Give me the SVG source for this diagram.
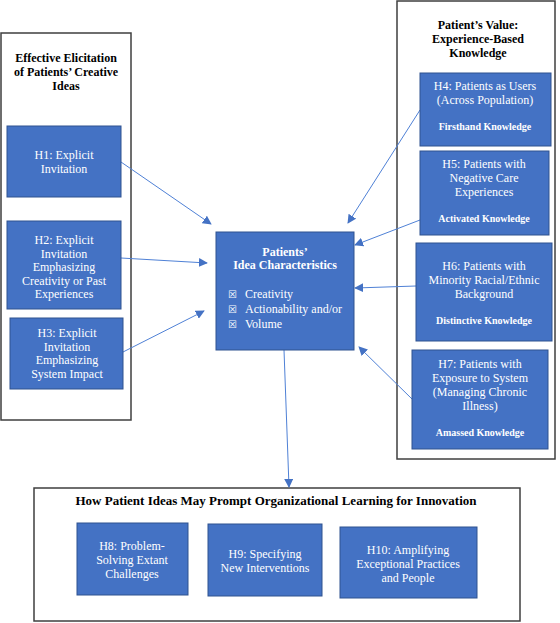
<svg xmlns="http://www.w3.org/2000/svg" width="560" height="623" viewBox="0 0 560 623">
<defs>
<style>
.cont{fill:#fff;stroke:#3f3f3f;stroke-width:1.5}
.box{fill:#4472C4;stroke:#2F528F;stroke-width:1}
.t{font-family:"Liberation Serif","Times New Roman",serif;font-size:12px;fill:#fff;text-anchor:middle}
.b{font-weight:bold;font-size:10px}
.ct{font-weight:bold;font-size:12px}
.h{font-family:"Liberation Serif","Times New Roman",serif;font-size:12px;font-weight:bold;fill:#000;text-anchor:middle}
.hb{font-size:13px}
.c{stroke:#4F81D6;stroke-width:1;fill:none;marker-end:url(#ah)}
.bl{font-family:"DejaVu Sans",sans-serif;font-size:10px;fill:#fff}
</style>
<marker id="ah" viewBox="0 0 10 10" refX="9" refY="5" markerWidth="9" markerHeight="9" markerUnits="userSpaceOnUse" orient="auto">
<path d="M0,0 L10,5 L0,10 z" fill="#4472C4"/>
</marker>
</defs>

<g id="left-container">
<rect class="cont" x="1" y="33" width="130" height="387"/>
<text class="h"><tspan x="66" y="62">Effective Elicitation</tspan><tspan x="66" y="76">of Patients’ Creative</tspan><tspan x="66" y="90">Ideas</tspan></text>
</g>
<g id="right-container">
<rect class="cont" x="397" y="1" width="158" height="458"/>
<text class="h"><tspan x="478" y="29">Patient’s Value:</tspan><tspan x="478" y="43">Experience-Based</tspan><tspan x="478" y="57">Knowledge</tspan></text>
</g>
<g id="bottom-container">
<rect class="cont" x="34" y="488" width="486" height="133"/>
<text class="h hb" x="276" y="505">How Patient Ideas May Prompt Organizational Learning for Innovation</text>
</g>

<g id="connectors">
<line class="c" x1="121" y1="162" x2="211" y2="224"/>
<line class="c" x1="121" y1="258" x2="207" y2="263"/>
<line class="c" x1="123" y1="352" x2="204" y2="311"/>
<line class="c" x1="420" y1="110" x2="348" y2="223"/>
<line class="c" x1="420" y1="220" x2="355" y2="245"/>
<line class="c" x1="416" y1="286" x2="355" y2="288"/>
<line class="c" x1="412" y1="399" x2="359" y2="347"/>
<line class="c" x1="284" y1="350" x2="289" y2="487"/>
</g>

<g id="H1">
<rect class="box" x="7" y="126" width="114" height="71"/>
<text class="t"><tspan x="64" y="159">H1: Explicit</tspan><tspan x="64" y="173">Invitation</tspan></text>
</g>
<g id="H2">
<rect class="box" x="7" y="221" width="114" height="88"/>
<text class="t"><tspan x="64" y="244">H2: Explicit</tspan><tspan x="64" y="257.5">Invitation</tspan><tspan x="64" y="271">Emphasizing</tspan><tspan x="64" y="284.5">Creativity or Past</tspan><tspan x="64" y="298">Experiences</tspan></text>
</g>
<g id="H3">
<rect class="box" x="10" y="318" width="113" height="71"/>
<text class="t"><tspan x="67" y="337">H3: Explicit</tspan><tspan x="67" y="350.5">Invitation</tspan><tspan x="67" y="364">Emphasizing</tspan><tspan x="67" y="377.5">System Impact</tspan></text>
</g>

<g id="center">
<rect class="box" x="216" y="232" width="138" height="118"/>
<text class="t ct"><tspan x="285" y="256">Patients’</tspan><tspan x="285" y="269">Idea Characteristics</tspan></text>
<text class="bl" x="228" y="298">☒</text>
<text class="bl" x="228" y="313">☒</text>
<text class="bl" x="228" y="328">☒</text>
<text class="t" style="text-anchor:start"><tspan x="245" y="298">Creativity</tspan><tspan x="245" y="313">Actionability and/or</tspan><tspan x="245" y="328">Volume</tspan></text>
</g>

<g id="H4">
<rect class="box" x="420" y="73" width="131" height="73"/>
<text class="t"><tspan x="485" y="90">H4: Patients as Users</tspan><tspan x="485" y="103.5">(Across Population)</tspan></text>
<text class="t b" x="485" y="130">Firsthand Knowledge</text>
</g>
<g id="H5">
<rect class="box" x="420" y="151" width="129" height="84"/>
<text class="t"><tspan x="484" y="168">H5: Patients with</tspan><tspan x="484" y="182">Negative Care</tspan><tspan x="484" y="196">Experiences</tspan></text>
<text class="t b" x="484" y="222">Activated Knowledge</text>
</g>
<g id="H6">
<rect class="box" x="416" y="243" width="136" height="98"/>
<text class="t"><tspan x="484" y="270">H6: Patients with</tspan><tspan x="484" y="284">Minority Racial/Ethnic</tspan><tspan x="484" y="298">Background</tspan></text>
<text class="t b" x="484" y="324">Distinctive Knowledge</text>
</g>
<g id="H7">
<rect class="box" x="412" y="350" width="136" height="99"/>
<text class="t"><tspan x="480" y="368">H7: Patients with</tspan><tspan x="480" y="382">Exposure to System</tspan><tspan x="480" y="396">(Managing Chronic</tspan><tspan x="480" y="410">Illness)</tspan></text>
<text class="t b" x="480" y="436">Amassed Knowledge</text>
</g>

<g id="H8">
<rect class="box" x="77" y="523" width="111" height="72"/>
<text class="t"><tspan x="132" y="550">H8: Problem-</tspan><tspan x="132" y="564">Solving Extant</tspan><tspan x="132" y="578">Challenges</tspan></text>
</g>
<g id="H9">
<rect class="box" x="208" y="524" width="114" height="72"/>
<text class="t"><tspan x="265" y="558">H9: Specifying</tspan><tspan x="265" y="572">New Interventions</tspan></text>
</g>
<g id="H10">
<rect class="box" x="340" y="527" width="137" height="71"/>
<text class="t"><tspan x="408" y="554">H10: Amplifying</tspan><tspan x="408" y="568">Exceptional Practices</tspan><tspan x="408" y="582">and People</tspan></text>
</g>
</svg>
